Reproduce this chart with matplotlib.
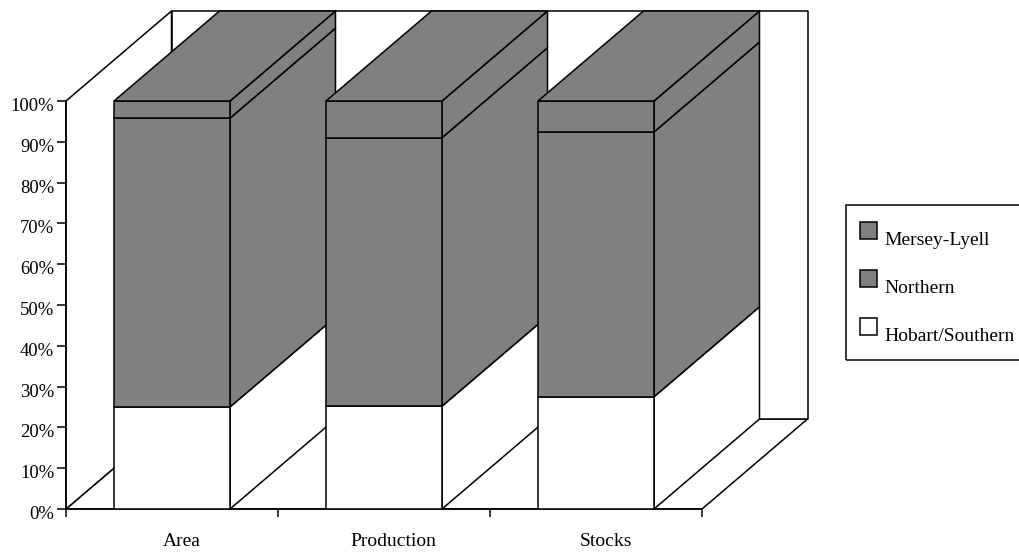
import numpy as np
import matplotlib
matplotlib.use("Agg")
import matplotlib.pyplot as plt
from matplotlib.patches import Polygon, Rectangle, Patch
from matplotlib.legend_handler import HandlerPatch
from matplotlib.transforms import ScaledTranslation

categories = ["Area", "Production", "Stocks"]
series_names = ["Hobart/Southern", "Northern", "Mersey-Lyell"]
hobart = [25.0, 25.2, 27.5]
northern = [70.8, 65.8, 64.9]
mersey = [4.2, 9.0, 7.6]
series_values = [hobart, northern, mersey]
series_colors = ["#ffffff", "#808080", "#808080"]
y_ticks = list(range(0, 101, 10))

W, H = 1019, 552
plt.rcParams["font.family"] = ["Liberation Serif", "DejaVu Serif"]
FS = 14.0
LW = 1.1
fig = plt.figure(figsize=(W / 100, H / 100), dpi=100)
ax = fig.add_axes([66 / W, 1 - 509 / H, 636 / W, 408 / H])
ax.set_xlim(0, len(categories))
ax.set_ylim(0, 100)

dx = 105.5 / 212
dy = 90 / 4.08
bw = 116 / 212


def poly(xs, ys, fc, z):
    ax.add_patch(Polygon(np.column_stack([xs, ys]), closed=True, facecolor=fc,
                         edgecolor="black", linewidth=LW, clip_on=False,
                         zorder=z, joinstyle="round"))


n = len(categories)
# walls and floor
poly([0, dx, n + dx, n], [0, dy, dy, 0], "white", 0.5)
poly([dx, n + dx, n + dx, dx], [dy, dy, 100 + dy, 100 + dy], "white", 0.6)
poly([0, dx, dx, 0], [0, dy, 100 + dy, 100], "white", 0.7)

z = 3
for i in range(n):
    left = i + 0.5 - bw / 2
    right = left + bw
    bottom = 0
    for vals, col in zip(series_values, series_colors):
        v = vals[i]
        top = bottom + v
        ax.bar(i + 0.5, v, bw, bottom=bottom, color=col, edgecolor="black",
               linewidth=LW, zorder=z + 0.1)
        poly([right, right + dx, right + dx, right],
             [bottom, bottom + dy, top + dy, top], col, z)
        bottom = top
        z += 0.2
    poly([left, right, right + dx, left + dx],
         [bottom, bottom, bottom + dy, bottom + dy], series_colors[-1], z)
    z += 0.2

for s in ["top", "right"]:
    ax.spines[s].set_visible(False)
for s in ["left", "bottom"]:
    ax.spines[s].set_linewidth(LW)

ax.set_yticks(y_ticks)
ax.set_yticklabels([f"{t}%" for t in y_ticks], fontsize=13.4)
ax.tick_params(axis="y", length=6.5, width=LW, pad=2)
shift = ScaledTranslation(0, -3.5 / 100, fig.dpi_scale_trans)
for lab in ax.get_yticklabels():
    lab.set_transform(lab.get_transform() + shift)
ax.set_xticks(np.arange(n + 1))
ax.set_xticklabels([""] * (n + 1))
ax.tick_params(axis="x", which="major", length=6, width=LW)
ax.set_xticks(np.arange(n) + 0.5 + 0.045, minor=True)
ax.set_xticklabels(categories, minor=True, fontsize=FS)
ax.tick_params(axis="x", which="minor", length=0, pad=17)


def shifted_patch(legend, orig_handle, xdescent, ydescent, width, height, fontsize):
    return Rectangle((-4.3, 4.3), 12.2, 12.2)


handles = [Patch(facecolor=series_colors[k], edgecolor="black", linewidth=LW, label=series_names[k])
           for k in (2, 1, 0)]
leg = ax.legend(handles=handles, loc="upper left",
                bbox_to_anchor=(846 / W, 1 - 210 / H, 190 / W, 0.0),
                mode="expand",
                bbox_transform=fig.transFigure, borderaxespad=0, fontsize=FS,
                frameon=False,
                handlelength=1.0, handleheight=0.95, handletextpad=-0.05,
                labelspacing=1.47, borderpad=1.04,
                handler_map={Patch: HandlerPatch(patch_func=shifted_patch)})
leg.set_zorder(50)
fig.add_artist(Rectangle((846 / W, 1 - 360 / H), 190 / W, 155.5 / H,
                         transform=fig.transFigure, facecolor="none",
                         edgecolor="black", linewidth=LW))

fig.savefig("out.png", dpi=100, facecolor="white")
